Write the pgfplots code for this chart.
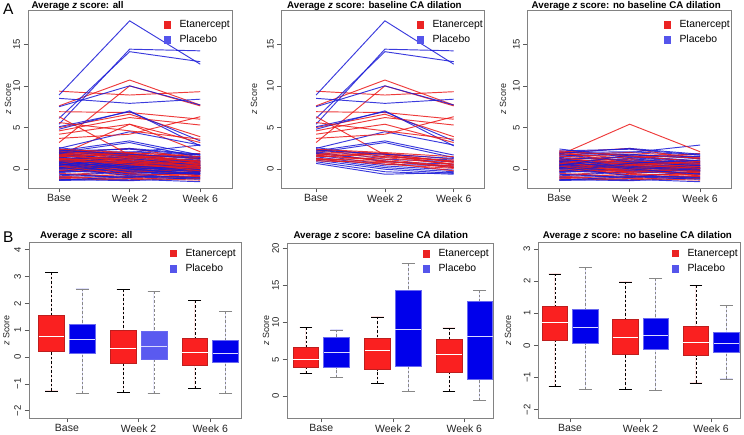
\documentclass[border=0pt]{standalone}
\usepackage{fontspec}
\setmainfont{Liberation Sans}
\usepackage{pgfplots}
\usepackage{pgfplotstable}
\pgfplotsset{compat=1.18}
\usepgfplotslibrary{statistics}

\definecolor{lineRed}{RGB}{235,25,25}
\definecolor{lineBlue}{RGB}{25,25,215}
\definecolor{boxRed}{RGB}{250,32,32}
\definecolor{boxRedEdge}{RGB}{190,30,30}
\definecolor{boxBlue}{RGB}{0,0,235}
\definecolor{boxBlueLight}{RGB}{90,90,240}
\definecolor{boxBlueEdge}{RGB}{105,105,240}
\definecolor{legRed}{RGB}{235,35,35}
\definecolor{legBlue}{RGB}{85,85,235}
\definecolor{frameGray}{RGB}{130,130,130}
\definecolor{tickGray}{RGB}{90,90,90}
\definecolor{labGray}{RGB}{35,35,35}
\definecolor{whiskGray}{RGB}{135,135,135}

% lines with baseline CA dilation: g=0 Etanercept, g=1 Placebo
\pgfplotstableread{
b w2 w6 g
9.36 8.9 9.3 0
8.9 17.8 12.6 1
7.6 10.7 7.7 0
5.4 14.4 14.2 1
3.2 10.0 7.6 0
6.1 14.1 12.9 1
6.9 6.8 6.0 0
8.5 7.9 8.4 1
6.3 1.7 0.6 0
7.5 10.0 7.7 1
5.0 6.6 3.9 0
5.1 6.9 3.4 1
4.6 6.2 5.3 0
4.8 7.0 2.8 1
4.2 5.4 3.2 0
2.5 4.5 2.9 1
3.7 4.2 6.3 0
2.2 3.4 1.7 1
5.6 4.6 3.6 0
2.0 3.2 1.4 1
2.6 1.5 1.1 1
2.3 1.9 1.2 0
2.4 1.2 0.9 1
2.1 1.8 0.9 0
2.1 0.9 0.6 1
1.9 1.7 0.5 0
1.9 1.0 0.2 1
1.8 1.5 1.0 0
1.7 0.6 0.4 1
1.6 1.2 0.3 0
1.5 0.4 -0.1 1
1.5 1.9 0.8 0
1.3 0.2 -0.3 1
1.3 0.9 0.4 0
1.1 0.0 -0.5 1
1.2 0.6 0.1 0
0.9 -0.3 -0.6 1
1.1 1.4 0.6 0
0.7 -0.6 -0.4 1
1.0 0.8 -0.2 0
2.3 1.8 1.3 1
2.4 2.0 1.5 0
1.7 1.0 0.2 0
}\dilTable

% lines without baseline CA dilation
\pgfplotstableread{
b w2 w6 g
-1.25 -1.0 -1.1 0
-1.35 -1.2 -1.5 1
-1.1 -1.33 -0.7 0
-1.2 -1.38 -1.0 1
-0.9 -0.6 -1.15 0
-1.0 -0.8 -1.03 1
-0.7 -0.2 -0.5 0
-0.8 -0.3 -0.6 1
-0.5 -0.9 -0.3 0
-0.6 -1.0 -0.2 1
-0.3 0.1 -0.8 0
-0.4 0.0 -0.5 1
-0.1 -0.4 0.2 0
-0.2 -0.5 0.0 1
0.0 0.3 -0.2 0
0.0 0.2 -0.3 1
0.1 -0.3 -0.4 0
0.07 -0.12 -0.2 1
0.15 0.5 0.0 0
0.1 0.4 0.1 1
0.2 -0.1 0.3 0
0.2 0.6 0.2 1
0.3 0.7 0.1 0
0.3 -0.2 -0.1 1
0.4 0.0 -0.3 0
0.4 0.3 0.3 1
0.5 0.2 0.5 0
0.5 0.8 0.45 1
0.6 -0.25 0.1 0
0.55 0.1 0.0 1
0.7 0.9 0.6 0
0.6 0.5 -0.2 1
0.75 0.4 -0.1 0
0.7 1.0 0.6 1
0.8 0.1 0.2 0
0.8 0.33 0.07 1
0.9 1.2 0.8 0
0.9 1.3 0.5 1
1.0 0.6 0.4 0
1.0 0.7 0.2 1
1.1 0.25 -0.2 0
1.1 0.85 0.45 1
1.2 1.5 1.0 0
1.13 1.5 0.9 1
1.25 0.8 0.6 0
1.3 0.2 -0.1 1
1.4 0.5 0.1 0
1.4 1.1 0.7 1
1.5 1.8 1.3 0
1.6 1.8 1.25 1
1.6 1.0 0.7 0
1.7 2.0 2.9 1
1.7 5.4 2.1 0
1.8 0.9 0.4 1
1.8 2.0 1.5 0
2.0 2.1 1.7 1
1.9 1.3 1.9 0
2.1 1.6 1.0 1
2.0 2.5 1.2 0
2.2 2.4 1.7 1
2.1 0.7 0.3 0
2.43 1.4 0.8 1
2.2 1.6 0.9 0
1.9 2.5 1.8 1
-0.95 -1.1 -1.3 0
-1.3 -0.9 -1.2 1
0.35 -0.7 -0.6 0
0.25 -0.8 -0.9 1
1.0 -0.5 -0.9 0
0.95 0.05 -0.6 1
-0.2 0.6 0.9 0
-0.3 0.7 1.1 1
0.65 1.6 1.4 0
0.45 1.7 1.5 1
}\nodilTable

\tikzset{wdash/.style={dash pattern=on 2.5pt off 2pt}}

\pgfplotsset{
  etaLine/.style={forget plot, draw=lineRed, draw opacity=0.85, line width=0.95pt, mark=none},
  plaLine/.style={forget plot, draw=lineBlue, draw opacity=0.85, line width=0.95pt, mark=none},
  legE/.style={only marks, mark=square*, mark size=3.4pt, color=legRed},
  legP/.style={only marks, mark=square*, mark size=3.4pt, color=legBlue},
  boxplot/draw/lower whisker/.code={%
    \draw[/pgfplots/boxplot/every whisker/.try, wdash]
      (boxplot box cs:\pgfplotsboxplotvalue{lower whisker},0.5) --
      (boxplot box cs:\pgfplotsboxplotvalue{lower quartile},0.5);
    \draw[/pgfplots/boxplot/every whisker/.try, solid]
      (boxplot whisker cs:\pgfplotsboxplotvalue{lower whisker},0) --
      (boxplot whisker cs:\pgfplotsboxplotvalue{lower whisker},1);
  },
  boxplot/draw/upper whisker/.code={%
    \draw[/pgfplots/boxplot/every whisker/.try, wdash]
      (boxplot box cs:\pgfplotsboxplotvalue{upper whisker},0.5) --
      (boxplot box cs:\pgfplotsboxplotvalue{upper quartile},0.5);
    \draw[/pgfplots/boxplot/every whisker/.try, solid]
      (boxplot whisker cs:\pgfplotsboxplotvalue{upper whisker},0) --
      (boxplot whisker cs:\pgfplotsboxplotvalue{upper whisker},1);
  },
  eBox/.style={forget plot, fill=boxRed, draw=boxRedEdge, line width=0.7pt,
    boxplot/draw direction=y,
    boxplot/box extend=0.36, boxplot/whisker extend=0.18,
    boxplot/every whisker/.style={draw=black, line width=0.6pt},
    boxplot/every median/.style={draw=white, line width=1.1pt}},
  pBox/.style={forget plot, fill=boxBlue, draw=boxBlueEdge, line width=0.7pt,
    boxplot/draw direction=y,
    boxplot/box extend=0.36, boxplot/whisker extend=0.18,
    boxplot/every whisker/.style={draw=whiskGray, line width=0.6pt},
    boxplot/every median/.style={draw=white!85!blue, line width=1.1pt}},
  rpanel/.style={
    scale only axis,
    axis line style={draw=frameGray, line width=0.6pt},
    tick pos=left, tick align=outside,
    major tick length=4.5pt,
    tick style={draw=tickGray, line width=0.6pt},
    xtick={1,2,3}, xticklabels={Base, Week 2, Week 6},
    xticklabel style={font=\fontsize{10.5}{11}\selectfont, text=labGray, inner sep=1pt, yshift=-1pt},
    yticklabel style={rotate=90, anchor=south, font=\fontsize{9.5}{10}\selectfont, text=labGray},
    /pgf/number format/assume math mode=true,
    ylabel={\textit{z} Score},
    ylabel style={anchor=center, font=\fontsize{9}{9}\selectfont, text=labGray},
    title style={at={(0,1)}, anchor=base west, font=\bfseries\fontsize{9.75}{10}\selectfont},
    legend style={at={(1,1)}, anchor=north east, draw=none, fill=none,
      font=\fontsize{10.4}{11}\selectfont, row sep=2.5pt, inner sep=0pt,
      /tikz/every odd column/.append style={column sep=7pt}},
    legend cell align=left,
  },
}

\newcommand\drawlines[1]{%
  \pgfplotstablegetrowsof{#1}%
  \pgfmathtruncatemacro\lastrow{\pgfplotsretval-1}%
  \pgfplotsforeachungrouped \ii in {0,...,\lastrow}{%
    \pgfplotstablegetelem{\ii}{b}\of{#1}\let\vb=\pgfplotsretval
    \pgfplotstablegetelem{\ii}{w2}\of{#1}\let\vw=\pgfplotsretval
    \pgfplotstablegetelem{\ii}{w6}\of{#1}\let\vs=\pgfplotsretval
    \pgfplotstablegetelem{\ii}{g}\of{#1}\let\vg=\pgfplotsretval
    \ifnum\vg=0 \def\ls{etaLine}\else\def\ls{plaLine}\fi
    \edef\tmp{\noexpand\addplot[\ls] coordinates {(1,\vb) (2,\vw) (3,\vs)};}%
    \tmp
  }%
}

\begin{document}
\begin{tikzpicture}
\useasboundingbox (0,0) rectangle (744pt,435pt);
\node[anchor=base west, font=\fontsize{15.5}{16}\selectfont, inner sep=0pt] at (3pt,420pt) {A};
\node[anchor=base west, font=\fontsize{15.5}{16}\selectfont, inner sep=0pt] at (3pt,192.3pt) {B};

% ---------- A1 ----------
\begin{axis}[rpanel, at={(28pt,247pt)}, anchor=south west, width=204pt, height=178pt,
  xmin=0.56, xmax=3.45, ymin=-2.25, ymax=19.1, ytick={0,5,10,15},
  title={Average \textit{z} score: all}, title style={yshift=-4.3pt},
  ylabel style={at={(axis description cs:-0.098,0.5)}},
  legend style={xshift=0pt, yshift=-8pt}]
\drawlines{\nodilTable}
\drawlines{\dilTable}
\addlegendimage{legE}\addlegendentry{Etanercept}
\addlegendimage{legP}\addlegendentry{Placebo}
\end{axis}

% ---------- A2 ----------
\begin{axis}[rpanel, at={(281.7pt,247pt)}, anchor=south west, width=202.3pt, height=178pt,
  xmin=0.5, xmax=3.44, ymin=-2.25, ymax=19.1, ytick={0,5,10,15},
  title={Average \textit{z} score: baseline CA dilation}, title style={yshift=-4.3pt, xshift=2pt},
  ylabel style={at={(axis description cs:-0.137,0.5)}},
  legend style={xshift=1pt, yshift=-8pt}]
\drawlines{\dilTable}
\addlegendimage{legE}\addlegendentry{Etanercept}
\addlegendimage{legP}\addlegendentry{Placebo}
\end{axis}

% ---------- A3 ----------
\begin{axis}[rpanel, at={(527.7pt,247pt)}, anchor=south west, width=203.3pt, height=178pt,
  xmin=0.55, xmax=3.44, ymin=-2.25, ymax=19.1, ytick={0,5,10,15},
  title={Average \textit{z} score: no baseline CA dilation}, title style={yshift=-4.3pt, xshift=0.5pt},
  ylabel style={at={(axis description cs:-0.121,0.5)}},
  legend style={xshift=1pt, yshift=-8pt}]
\drawlines{\nodilTable}
\addlegendimage{legE}\addlegendentry{Etanercept}
\addlegendimage{legP}\addlegendentry{Placebo}
\end{axis}

% ---------- B1 ----------
\begin{axis}[rpanel, at={(29pt,17pt)}, anchor=south west, width=212pt, height=175.3pt,
  xmin=0.47, xmax=3.43, ymin=-2.27, ymax=4.26,
  ytick={-2,-1,0,1,2,3,4}, yticklabels={−2,−1,0,1,2,3,4},
  title={Average \textit{z} score: all}, title style={yshift=-1.6pt, xshift=7.7pt},
  ylabel style={at={(axis description cs:-0.107,0.5)}},
  legend style={xshift=-3pt, yshift=-4pt}]
\addplot[eBox, boxplot prepared={draw position=0.785, lower whisker=-1.26, lower quartile=0.2, median=0.76, upper quartile=1.55, upper whisker=3.16}] coordinates {};
\addplot[pBox, boxplot prepared={draw position=1.215, lower whisker=-1.34, lower quartile=0.14, median=0.64, upper quartile=1.22, upper whisker=2.54}] coordinates {};
\addplot[eBox, boxplot prepared={draw position=1.785, lower whisker=-1.33, lower quartile=-0.22, median=0.32, upper quartile=1.01, upper whisker=2.52}] coordinates {};
\addplot[pBox, fill=boxBlueLight, boxplot prepared={draw position=2.215, lower whisker=-1.34, lower quartile=-0.07, median=0.39, upper quartile=0.96, upper whisker=2.45}] coordinates {};
\addplot[eBox, boxplot prepared={draw position=2.785, lower whisker=-1.16, lower quartile=-0.30, median=0.17, upper quartile=0.71, upper whisker=2.10}] coordinates {};
\addplot[pBox, boxplot prepared={draw position=3.215, lower whisker=-1.34, lower quartile=-0.20, median=0.12, upper quartile=0.62, upper whisker=1.70}] coordinates {};
\addlegendimage{legE}\addlegendentry{Etanercept}
\addlegendimage{legP}\addlegendentry{Placebo}
\end{axis}

% ---------- B2 ----------
\begin{axis}[rpanel, at={(287pt,17pt)}, anchor=south west, width=206pt, height=175pt,
  xmin=0.52, xmax=3.40, ymin=-2.93, ymax=20.75,
  ytick={0,5,10,15,20},
  title={Average \textit{z} score: baseline CA dilation}, title style={yshift=-1.4pt, xshift=3pt},
  ylabel style={at={(axis description cs:-0.102,0.5)}},
  legend style={xshift=-2pt, yshift=-4pt}]
\addplot[eBox, boxplot prepared={draw position=0.785, lower whisker=3.15, lower quartile=3.96, median=4.95, upper quartile=6.62, upper whisker=9.37}] coordinates {};
\addplot[pBox, boxplot prepared={draw position=1.215, lower whisker=2.61, lower quartile=3.87, median=5.95, upper quartile=8.05, upper whisker=9.0}] coordinates {};
\addplot[eBox, boxplot prepared={draw position=1.785, lower whisker=1.7, lower quartile=3.6, median=6.2, upper quartile=7.88, upper whisker=10.76}] coordinates {};
\addplot[pBox, boxplot prepared={draw position=2.215, lower whisker=0.67, lower quartile=4.1, median=9.0, upper quartile=14.37, upper whisker=17.97}] coordinates {};
\addplot[eBox, boxplot prepared={draw position=2.785, lower whisker=0.62, lower quartile=3.2, median=5.7, upper quartile=7.65, upper whisker=9.27}] coordinates {};
\addplot[pBox, boxplot prepared={draw position=3.215, lower whisker=-0.59, lower quartile=2.3, median=8.05, upper quartile=12.88, upper whisker=14.33}] coordinates {};
\addlegendimage{legE}\addlegendentry{Etanercept}
\addlegendimage{legP}\addlegendentry{Placebo}
\end{axis}

% ---------- B3 ----------
\begin{axis}[rpanel, at={(538.3pt,17pt)}, anchor=south west, width=201.7pt, height=175.3pt,
  xmin=0.55, xmax=3.41, ymin=-2.26, ymax=3.2,
  ytick={-2,-1,0,1,2,3}, yticklabels={−2,−1,0,1,2,3},
  title={Average \textit{z} score: no baseline CA dilation}, title style={yshift=-1.6pt, xshift=1pt},
  ylabel style={at={(axis description cs:-0.150,0.5)}},
  legend style={xshift=0pt, yshift=-4pt}]
\addplot[eBox, boxplot prepared={draw position=0.785, lower whisker=-1.28, lower quartile=0.145, median=0.72, upper quartile=1.22, upper whisker=2.23}] coordinates {};
\addplot[pBox, boxplot prepared={draw position=1.215, lower whisker=-1.37, lower quartile=0.06, median=0.56, upper quartile=1.12, upper whisker=2.44}] coordinates {};
\addplot[eBox, boxplot prepared={draw position=1.785, lower whisker=-1.36, lower quartile=-0.27, median=0.24, upper quartile=0.81, upper whisker=1.98}] coordinates {};
\addplot[pBox, boxplot prepared={draw position=2.215, lower whisker=-1.39, lower quartile=-0.12, median=0.32, upper quartile=0.83, upper whisker=2.09}] coordinates {};
\addplot[eBox, boxplot prepared={draw position=2.785, lower whisker=-1.17, lower quartile=-0.32, median=0.08, upper quartile=0.59, upper whisker=1.88}] coordinates {};
\addplot[pBox, boxplot prepared={draw position=3.215, lower whisker=-1.04, lower quartile=-0.23, median=0.06, upper quartile=0.41, upper whisker=1.25}] coordinates {};
\addlegendimage{legE}\addlegendentry{Etanercept}
\addlegendimage{legP}\addlegendentry{Placebo}
\end{axis}
\end{tikzpicture}
\end{document}
